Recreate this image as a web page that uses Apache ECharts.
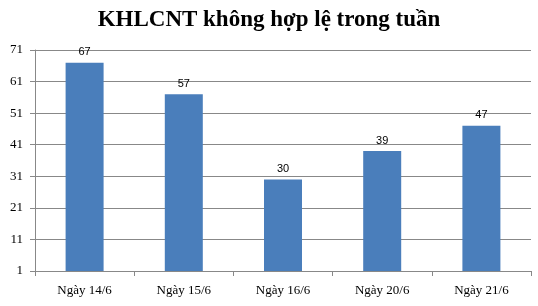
<!DOCTYPE html>
<html><head><meta charset="utf-8">
<script src="https://cdn.jsdelivr.net/npm/echarts@6/dist/echarts.min.js"></script>
<style>html,body{margin:0;padding:0;background:#fff}#c{width:538px;height:306px}</style>
</head><body><div id="c"></div>
<script>
const titleText = 'KHLCNT không hợp lệ trong tuần';
const categories = ['Ngày 14/6', 'Ngày 15/6', 'Ngày 16/6', 'Ngày 20/6', 'Ngày 21/6'];
const values = [67, 57, 30, 39, 47];
const yMin = 1, yMax = 71, yStep = 10;

const chart = echarts.init(document.getElementById('c'), null, {renderer: 'canvas'});
chart.setOption({
  animation: false,
  backgroundColor: '#fff',
  title: {
    text: titleText, left: 264, top: 4, textAlign: 'center',
    textStyle: {fontFamily: 'Liberation Serif', fontWeight: 'bold', fontSize: 23, color: '#000'}
  },
  grid: {left: 35, right: 7, top: 50, bottom: 35, containLabel: false},
  xAxis: {
    type: 'category', data: categories,
    axisLine: {lineStyle: {color: '#888', width: 1}},
    axisTick: {show: true, alignWithLabel: false, length: 5, lineStyle: {color: '#888'}},
    axisLabel: {fontFamily: 'Liberation Serif', fontSize: 13, color: '#000', margin: 13}
  },
  yAxis: {
    type: 'value', min: yMin, max: yMax, interval: yStep,
    axisLine: {show: true, lineStyle: {color: '#888', width: 1}},
    axisTick: {show: true, length: 5, lineStyle: {color: '#888'}},
    splitLine: {lineStyle: {color: '#888', width: 1}},
    axisLabel: {fontFamily: 'Liberation Serif', fontSize: 13, color: '#000', margin: 12}
  },
  series: [{
    type: 'bar', data: values, barWidth: 38,
    itemStyle: {color: '#4a7ebb'},
    label: {show: true, position: 'top', distance: 5, fontFamily: 'Liberation Sans', fontSize: 11, color: '#000'}
  }]
});
</script></body></html>
